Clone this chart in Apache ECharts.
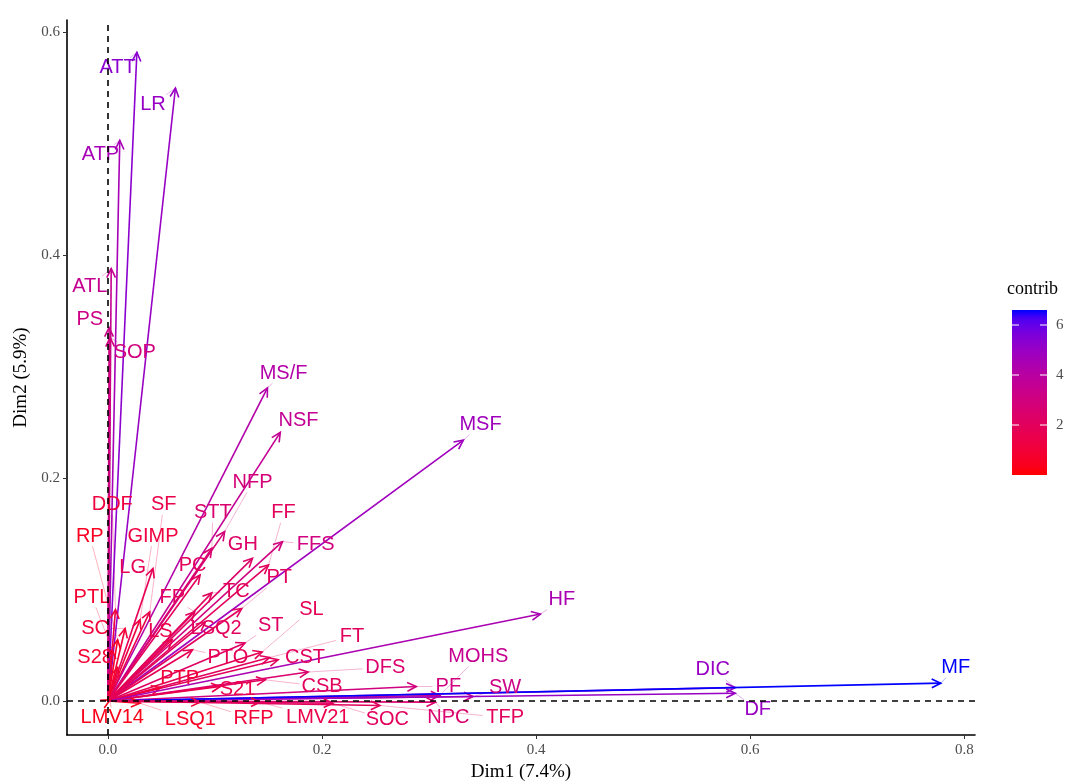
<!DOCTYPE html>
<html lang="en">
<head>
    <meta charset="UTF-8">
    <script src="https://cdn.jsdelivr.net/npm/echarts@6/dist/echarts.min.js"></script>
    <style>
        body, html { margin: 0; padding: 0; background: #fff; }
        #chart { width: 1073px; height: 784px; }
    </style>
</head>
<body>
    <div id="chart"></div>
    <script>
        // variables, arrow tips (Dim1, Dim2), contributions, repelled label positions
        const names = ['ATT', 'LR', 'ATP', 'ATL', 'PS', 'SOP', 'MS/F', 'NSF', 'MSF', 'NFP',
            'STT', 'PC', 'GH', 'FF', 'FFS', 'TC', 'PT', 'GIMP', 'LG', 'RP',
            'PTL', 'SC', 'S28', 'DDF', 'SF', 'FP', 'LS', 'LSQ2', 'ST', 'PTO',
            'SL', 'FT', 'CST', 'DFS', 'CSB', 'PTP', 'S21', 'PF', 'MOHS', 'SW',
            'HF', 'DIC', 'DF', 'MF', 'LMV14', 'LSQ1', 'RFP', 'LMV21', 'SOC', 'NPC', 'TFP'];
        const dim1 = [0.027, 0.063, 0.011, 0.003, 0.001, 0.002, 0.149, 0.161, 0.332, 0.109,
            0.097, 0.086, 0.135, 0.150, 0.163, 0.097, 0.125, 0.030, 0.042, 0.009,
            0.004, 0.016, 0.009, 0.007, 0.039, 0.081, 0.060, 0.091, 0.128, 0.079,
            0.144, 0.151, 0.159, 0.187, 0.147, 0.049, 0.105, 0.288, 0.310, 0.341,
            0.404, 0.586, 0.586, 0.778, 0.002, 0.030, 0.086, 0.142, 0.210, 0.306, 0.254];
        const dim2 = [0.582, 0.550, 0.503, 0.388, 0.335, 0.326, 0.281, 0.241, 0.234, 0.152,
            0.137, 0.113, 0.128, 0.122, 0.143, 0.097, 0.083, 0.073, 0.119, 0.055,
            0.046, 0.065, 0.030, 0.082, 0.080, 0.080, 0.055, 0.071, 0.052, 0.046,
            0.044, 0.039, 0.037, 0.026, 0.019, 0.012, 0.013, 0.013, 0.005, 0.004,
            0.078, 0.012, 0.007, 0.016, 0.001, -0.002, -0.001, -0.001, -0.002, -0.001, -0.004];
        const contrib = [5.3, 5.0, 4.6, 3.5, 3.2, 3.0, 4.2, 3.6, 4.8, 2.8,
            2.5, 2.0, 2.3, 2.0, 3.0, 2.0, 2.0, 1.2, 1.8, 0.5,
            0.8, 1.0, 0.8, 1.2, 1.5, 2.0, 1.5, 2.0, 2.2, 1.8,
            1.8, 2.0, 2.0, 2.5, 2.0, 1.0, 1.5, 3.0, 3.5, 3.2,
            4.5, 5.0, 5.0, 6.6, 0.3, 0.5, 1.0, 1.5, 2.0, 2.5, 2.0];
        const labX = [0.009, 0.042, -0.007, -0.017, -0.017, 0.025, 0.164, 0.178, 0.348, 0.135,
            0.098, 0.079, 0.126, 0.164, 0.194, 0.120, 0.160, 0.042, 0.023, -0.017,
            -0.015, -0.012, -0.012, 0.004, 0.052, 0.060, 0.049, 0.101, 0.152, 0.112,
            0.190, 0.228, 0.184, 0.259, 0.200, 0.067, 0.121, 0.318, 0.346, 0.371,
            0.424, 0.565, 0.607, 0.792, 0.004, 0.077, 0.136, 0.196, 0.261, 0.318, 0.371];
        const labY = [0.568, 0.535, 0.490, 0.372, 0.342, 0.313, 0.294, 0.252, 0.248, 0.196,
            0.169, 0.122, 0.140, 0.169, 0.140, 0.098, 0.111, 0.148, 0.120, 0.148,
            0.093, 0.065, 0.039, 0.176, 0.176, 0.093, 0.062, 0.065, 0.068, 0.039,
            0.082, 0.058, 0.039, 0.030, 0.013, 0.020, 0.010, 0.013, 0.040, 0.012,
            0.091, 0.028, -0.008, 0.030, -0.015, -0.017, -0.016, -0.015, -0.017, -0.015, -0.015];

        const xTicks = [0, 0.2, 0.4, 0.6, 0.8];
        const yTicks = [0, 0.2, 0.4, 0.6];
        const legendTicks = [2, 4, 6];
        const cMin = 0, cMax = 6.6;

        // red -> blue gradient in Lab space (like ggplot's scale_color_gradient)
        function lin(c) { c /= 255; return c <= 0.04045 ? c / 12.92 : Math.pow((c + 0.055) / 1.055, 2.4); }
        function unlin(c) { c = c <= 0.0031308 ? 12.92 * c : 1.055 * Math.pow(c, 1 / 2.4) - 0.055; return Math.round(Math.max(0, Math.min(1, c)) * 255); }
        function toLab(r, g, b) {
            r = lin(r); g = lin(g); b = lin(b);
            let X = (0.4124 * r + 0.3576 * g + 0.1805 * b) / 0.95047;
            let Y = 0.2126 * r + 0.7152 * g + 0.0722 * b;
            let Z = (0.0193 * r + 0.1192 * g + 0.9505 * b) / 1.08883;
            const f = t => t > 0.008856 ? Math.cbrt(t) : 7.787 * t + 16 / 116;
            return [116 * f(Y) - 16, 500 * (f(X) - f(Y)), 200 * (f(Y) - f(Z))];
        }
        function fromLab(L, a, b) {
            const fy = (L + 16) / 116, fx = fy + a / 500, fz = fy - b / 200;
            const g = t => t * t * t > 0.008856 ? t * t * t : (t - 16 / 116) / 7.787;
            const X = 0.95047 * g(fx), Y = g(fy), Z = 1.08883 * g(fz);
            const r = 3.2406 * X - 1.5372 * Y - 0.4986 * Z;
            const gg = -0.9689 * X + 1.8758 * Y + 0.0415 * Z;
            const bb = 0.0557 * X - 0.2040 * Y + 1.0570 * Z;
            return 'rgb(' + unlin(r) + ',' + unlin(gg) + ',' + unlin(bb) + ')';
        }
        const labLow = toLab(255, 0, 0), labHigh = toLab(0, 0, 255);
        function colorAt(t) {
            t = Math.max(0, Math.min(1, t));
            return fromLab(labLow[0] + (labHigh[0] - labLow[0]) * t,
                labLow[1] + (labHigh[1] - labLow[1]) * t,
                labLow[2] + (labHigh[2] - labLow[2]) * t);
        }
        function contribColor(v) { return colorAt((v - cMin) / (cMax - cMin)); }

        const sansFont = '20px "Liberation Sans", Arial, sans-serif';
        const serif = '"Liberation Serif", "Times New Roman", serif';

        const data = names.map((n, i) => [dim1[i], dim2[i], contrib[i], labX[i], labY[i], i]);

        function renderArrow(params, api) {
            const i = api.value(5);
            const o = api.coord([0, 0]);
            const t = api.coord([api.value(0), api.value(1)]);
            const c = api.coord([api.value(3), api.value(4)]);
            const col = contribColor(api.value(2));
            const children = [];
            // repel segment from label box edge to tip
            const hw = names[i].length * 6.5 + 3, hh = 10;
            const dx = t[0] - c[0], dy = t[1] - c[1];
            const s = Math.min(dx !== 0 ? hw / Math.abs(dx) : Infinity, dy !== 0 ? hh / Math.abs(dy) : Infinity);
            if (s < 1 && Math.hypot(dx, dy) * (1 - s) > 6) {
                children.push({
                    type: 'line', z2: 0,
                    shape: { x1: c[0] + dx * s, y1: c[1] + dy * s, x2: t[0], y2: t[1] },
                    style: { stroke: col, lineWidth: 0.6, opacity: 0.5 }
                });
            }
            const ang = Math.atan2(t[1] - o[1], t[0] - o[0]);
            const L = 10, a = 0.45;
            children.push({
                type: 'line', z2: 1,
                shape: { x1: o[0], y1: o[1], x2: t[0], y2: t[1] },
                style: { stroke: col, lineWidth: 1.6 }
            });
            children.push({
                type: 'polyline', z2: 1,
                shape: { points: [
                    [t[0] - L * Math.cos(ang - a), t[1] - L * Math.sin(ang - a)],
                    [t[0], t[1]],
                    [t[0] - L * Math.cos(ang + a), t[1] - L * Math.sin(ang + a)]
                ] },
                style: { stroke: col, lineWidth: 1.6, fill: null }
            });
            children.push({
                type: 'text', z2: 2,
                style: { text: names[i], x: c[0], y: c[1], fill: col, font: sansFont, align: 'center', verticalAlign: 'middle' }
            });
            return { type: 'group', children: children };
        }

        // colour bar
        const barX = 1012, barTop = 310, barW = 35, barH = 165;
        const stops = [];
        for (let k = 0; k <= 20; k++) stops.push({ offset: k / 20, color: colorAt(1 - k / 20) });
        const graphics = [
            { type: 'text', left: 1007, top: 280, style: { text: 'contrib', font: '18px ' + serif, fill: '#000' } },
            { type: 'rect', shape: { x: barX, y: barTop, width: barW, height: barH },
              style: { fill: { type: 'linear', x: 0, y: 0, x2: 0, y2: 1, colorStops: stops } } }
        ];
        legendTicks.forEach(v => {
            const y = barTop + barH * (1 - (v - cMin) / (cMax - cMin));
            graphics.push({ type: 'line', shape: { x1: barX, y1: y, x2: barX + 7, y2: y }, style: { stroke: '#fff', lineWidth: 1 } });
            graphics.push({ type: 'line', shape: { x1: barX + barW - 7, y1: y, x2: barX + barW, y2: y }, style: { stroke: '#fff', lineWidth: 1 } });
            graphics.push({ type: 'text', x: barX + barW + 9, y: y, style: { text: String(v), font: '15px ' + serif, fill: '#4d4d4d', verticalAlign: 'middle' } });
        });

        const axisCommon = {
            type: 'value',
            splitLine: { show: false },
            axisLine: { show: true, onZero: false, lineStyle: { color: '#000', width: 1.6 } },
            axisTick: { show: true, length: 4, lineStyle: { color: '#333' } },
            axisLabel: { color: '#4d4d4d', fontFamily: serif, fontSize: 15, formatter: v => v.toFixed(1) },
            nameLocation: 'middle',
            nameTextStyle: { color: '#000', fontFamily: serif, fontSize: 19 }
        };

        const chart = echarts.init(document.getElementById('chart'));
        chart.setOption({
            animation: false,
            backgroundColor: '#fff',
            grid: { left: 67, right: 98, top: 20, bottom: 49, outerBoundsMode: 'none', containLabel: false },
            xAxis: Object.assign({}, axisCommon, {
                min: -0.0383, max: 0.81, name: 'Dim1 (7.4%)', nameGap: 28,
                axisTick: Object.assign({}, axisCommon.axisTick, { customValues: xTicks }),
                axisLabel: Object.assign({}, axisCommon.axisLabel, { customValues: xTicks, margin: 8 })
            }),
            yAxis: Object.assign({}, axisCommon, {
                min: -0.0305, max: 0.611, name: 'Dim2 (5.9%)', nameGap: 35,
                axisTick: Object.assign({}, axisCommon.axisTick, { customValues: yTicks }),
                axisLabel: Object.assign({}, axisCommon.axisLabel, { customValues: yTicks, margin: 7 })
            }),
            graphic: graphics,
            series: [
                {
                    type: 'line', data: [], silent: true,
                    markLine: {
                        silent: true, symbol: 'none', label: { show: false },
                        lineStyle: { color: '#000', type: [6, 5], width: 1.6 },
                        data: [{ xAxis: 0 }, { yAxis: 0 }]
                    }
                },
                {
                    type: 'custom', renderItem: renderArrow, data: data, clip: false, silent: true
                }
            ]
        });
    </script>
</body>
</html>
